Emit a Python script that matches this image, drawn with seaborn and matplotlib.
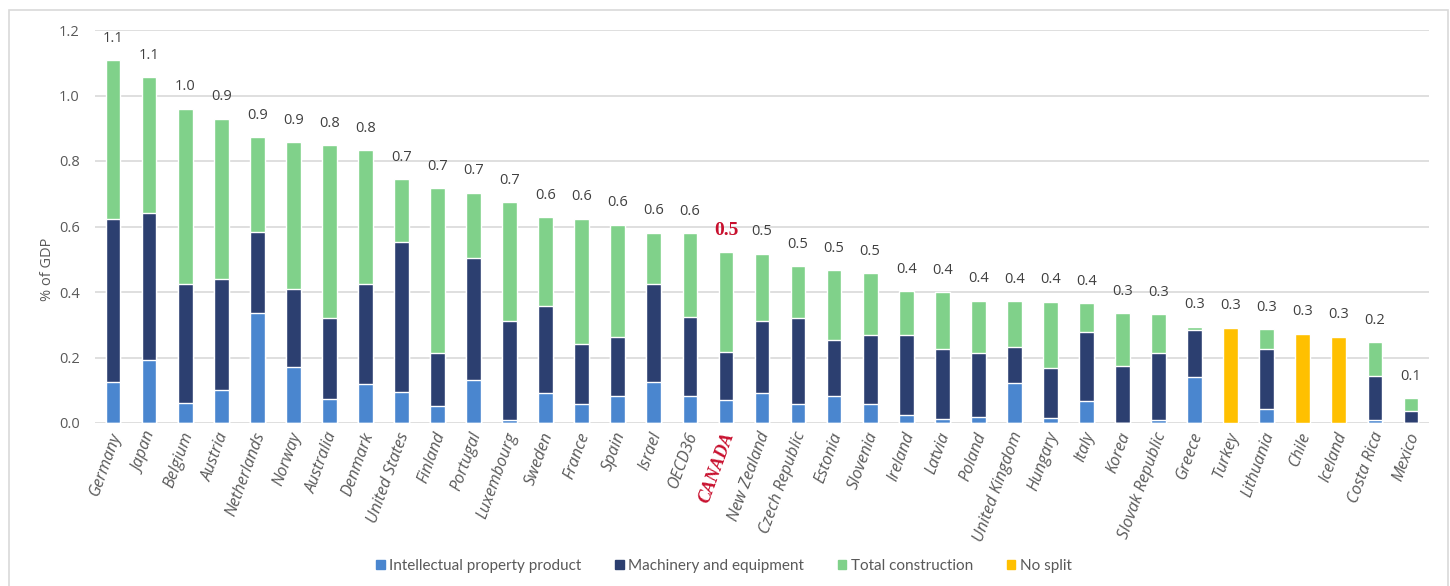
import numpy as np
import pandas as pd
import matplotlib
matplotlib.use("Agg")
import matplotlib.pyplot as plt
import matplotlib.transforms as mtransforms
from matplotlib.patches import Patch, Rectangle
import seaborn as sns

countries = ["Germany", "Japan", "Belgium", "Austria", "Netherlands", "Norway", "Australia",
             "Denmark", "United States", "Finland", "Portugal", "Luxembourg", "Sweden", "France",
             "Spain", "Israel", "OECD36", "CANADA", "New Zealand", "Czech Republic", "Estonia",
             "Slovenia", "Ireland", "Latvia", "Poland", "United Kingdom", "Hungary", "Italy",
             "Korea", "Slovak Republic", "Greece", "Turkey", "Lithuania", "Chile", "Iceland",
             "Costa Rica", "Mexico"]

ip_product = [0.125, 0.193, 0.060, 0.102, 0.335, 0.170, 0.074, 0.119, 0.095, 0.052, 0.130,
              0.009, 0.093, 0.057, 0.083, 0.125, 0.083, 0.070, 0.093, 0.057, 0.083, 0.059,
              0.025, 0.013, 0.019, 0.123, 0.016, 0.068, 0.000, 0.010, 0.141, 0.000, 0.044,
              0.000, 0.000, 0.008, 0.000]
machinery = [0.498, 0.449, 0.365, 0.337, 0.249, 0.240, 0.247, 0.306, 0.458, 0.163, 0.375,
             0.301, 0.263, 0.183, 0.180, 0.299, 0.240, 0.148, 0.219, 0.263, 0.171, 0.211,
             0.245, 0.213, 0.196, 0.110, 0.152, 0.209, 0.175, 0.205, 0.144, 0.000, 0.183,
             0.000, 0.000, 0.135, 0.038]
construction = [0.484, 0.414, 0.534, 0.490, 0.289, 0.447, 0.527, 0.408, 0.191, 0.502, 0.198,
                0.364, 0.272, 0.384, 0.343, 0.157, 0.257, 0.304, 0.205, 0.158, 0.213, 0.187,
                0.133, 0.174, 0.159, 0.138, 0.202, 0.089, 0.160, 0.117, 0.009, 0.000, 0.059,
                0.000, 0.000, 0.104, 0.037]
no_split = [0]*31 + [0.291, 0, 0.273, 0.263, 0, 0]

value_labels = ["1.1", "1.1", "1.0", "0.9", "0.9", "0.9", "0.8", "0.8", "0.7", "0.7", "0.7",
                "0.7", "0.6", "0.6", "0.6", "0.6", "0.6", "0.5", "0.5", "0.5", "0.5", "0.5",
                "0.4", "0.4", "0.4", "0.4", "0.4", "0.4", "0.3", "0.3", "0.3", "0.3", "0.3",
                "0.3", "0.3", "0.2", "0.1"]

series_names = ["Intellectual property product", "Machinery and equipment",
                "Total construction", "No split"]
c_ip, c_mach, c_con, c_ns = "#4A86CF", "#2C3F70", "#80D18A", "#FFC000"
gray = "#595959"
red = "#C8102E"

df = pd.DataFrame({"country": countries, "ip": ip_product, "mach": machinery,
                   "con": construction, "ns": no_split})
df["lvl2"] = df["ip"] + df["mach"]
df["lvl3"] = df["lvl2"] + df["con"]
df["total"] = df["lvl3"] + df["ns"]

sns.set_theme(style="white")
plt.rcParams["font.family"] = ["Open Sans", "DejaVu Sans"]

fig = plt.figure(figsize=(14.5, 5.86), dpi=100)
ax = fig.add_axes([95/1450, 1 - 423/586, (1429 - 95)/1450, (423 - 30)/586])

bw = 0.41
sns.barplot(data=df, x="country", y="lvl3", color=c_con, width=bw, errorbar=None,
            ax=ax, saturation=1, zorder=3)
sns.barplot(data=df, x="country", y="lvl2", color=c_mach, width=bw, errorbar=None,
            ax=ax, saturation=1, zorder=3)
sns.barplot(data=df, x="country", y="ip", color=c_ip, width=bw, errorbar=None,
            ax=ax, saturation=1, zorder=3)
sns.barplot(data=df, x="country", y="ns", color=c_ns, width=bw, errorbar=None,
            ax=ax, saturation=1, zorder=3)

ax.set_xlim(-0.5, len(countries) - 0.5)
ax.set_ylim(0, 1.2)
ax.set_yticks(np.arange(0, 1.21, 0.2))
ax.set_yticklabels([f"{v:.1f}" for v in np.arange(0, 1.21, 0.2)])
ax.yaxis.grid(True, color="#D9D9D9", linewidth=1.2, zorder=0)
ax.set_axisbelow(True)
for s in ax.spines.values():
    s.set_visible(False)
ax.tick_params(axis="both", length=0)
ax.tick_params(axis="y", labelsize=10.5, labelcolor=gray, pad=11)
ax.set_xlabel("")
ax.set_ylabel("% of GDP", fontsize=10.5, color=gray)
ax.yaxis.set_label_coords(-0.030, 0.39)

ax.set_xticks(range(len(countries)))
ax.set_xticklabels(countries, rotation=70, ha="right", rotation_mode="anchor",
                   fontsize=11.8, color=gray, style="italic")
ax.tick_params(axis="x", pad=5)
shift = mtransforms.ScaledTranslation(-4/100, 0, fig.dpi_scale_trans)
for lab in ax.get_xticklabels():
    lab.set_transform(lab.get_transform() + shift)
    if lab.get_text() == "CANADA":
        lab.set_color(red)
        lab.set_fontfamily(["Liberation Serif", "DejaVu Serif"])
        lab.set_fontweight("bold")
        lab.set_fontsize(13)

for i, (tot, txt) in enumerate(zip(df["total"], value_labels)):
    if countries[i] == "CANADA":
        ax.annotate(txt, (i, tot), xytext=(0, 15.8), textcoords="offset points",
                    ha="center", va="center", fontsize=14, color=red, fontweight="bold",
                    family=["Liberation Serif", "DejaVu Serif"])
    else:
        ax.annotate(txt, (i, tot), xytext=(0, 15.8), textcoords="offset points",
                    ha="center", va="center", fontsize=10.5, color="#404040")

handles = [Patch(color=c) for c in (c_ip, c_mach, c_con, c_ns)]
fig.legend(handles, series_names, loc="center", bbox_to_anchor=(724/1450, 1 - 566/586),
           ncol=4, frameon=False, handlelength=0.55, handleheight=0.55,
           handletextpad=0.3, columnspacing=2.2, labelcolor=gray,
           prop={"family": ["Lato", "DejaVu Sans"], "size": 11})

fig.patches.append(Rectangle((9/1450, -0.05), (1448 - 9)/1450, 1.05 - 10/586,
                             transform=fig.transFigure, fill=False,
                             edgecolor="#D9D9D9", linewidth=1.2))

fig.savefig("out.png", dpi=100)
